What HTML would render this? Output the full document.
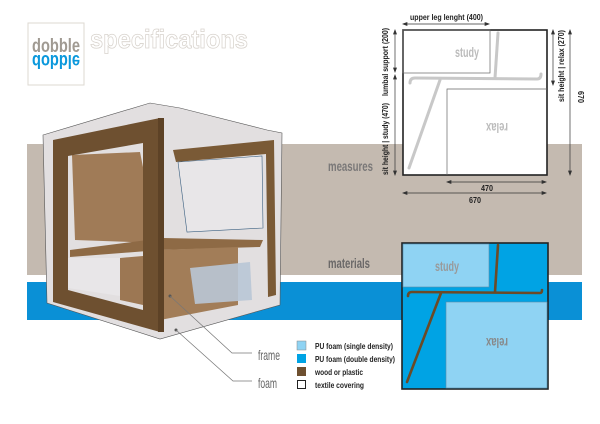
<!DOCTYPE html>
<html><head><meta charset="utf-8"><style>
body{margin:0;background:#fff;}
svg{display:block;}
.c{font-family:"Liberation Sans Narrow","Liberation Sans",sans-serif;}
</style></head><body>
<svg width="600" height="424" viewBox="0 0 600 424" xmlns="http://www.w3.org/2000/svg">
<rect x="27" y="144" width="555" height="131" fill="#c4bab0"/>
<rect x="27" y="282" width="555" height="38" fill="#0a90d6"/>
<rect x="28" y="23" width="56" height="62" fill="#fff" stroke="#ddd8d2" stroke-width="1"/>
<text x="56" y="52" text-anchor="middle" class="c" font-size="19" font-weight="bold" fill="#a09a92" textLength="48" lengthAdjust="spacingAndGlyphs">dobble</text>
<text x="56" y="55" text-anchor="middle" class="c" font-size="19" font-weight="bold" fill="#0a98dc" textLength="48" lengthAdjust="spacingAndGlyphs" transform="translate(0,110) scale(1,-1)">dobble</text>
<text x="90" y="48" class="c" font-size="26" font-weight="bold" fill="#fff" stroke="#d8d3cd" stroke-width="0.8" textLength="158" lengthAdjust="spacingAndGlyphs">specifications</text>
<polygon points="43,135 150,103 180,108 267,130 282,133 280,305 160,339 47,303" fill="#e2dfe0" stroke="#555" stroke-width="0.6"/>
<polygon points="173,150 274,140 276,295 268,297 266,154 176,162" fill="#7a5a36"/>
<polygon points="178,162 262,156 263,228 187,232" fill="#e8e6e8" stroke="#3a5f80" stroke-width="0.6"/>
<polygon points="72,155 140,152 158,243 75,240" fill="#a07b57"/>
<polygon points="70,250 163,238 263,240 260,247 160,250 70,257" fill="#8e6a45"/>
<polygon points="160,250 238,247 238,305 160,320" fill="#a27d58"/>
<polygon points="190,268 250,262 252,300 195,304" fill="#b9c6d6" opacity="0.9"/>
<polygon points="68,258 120,258 120,296 68,288" fill="#e8e6e8"/>
<polygon points="120,258 143,256 143,305 120,300" fill="#9c7753"/>
<path d="M53,140 L160,118 L160,332 L53,302 Z M68,156 L143,143 L143,310 L68,290 Z" fill="#6e5030" fill-rule="evenodd"/>
<rect x="158" y="118" width="6" height="214" fill="#5d4226"/>
<circle cx="170" cy="296" r="1.5" fill="#555"/>
<circle cx="176" cy="330" r="1.5" fill="#555"/>
<polyline points="170,296 232,353 252,353" fill="none" stroke="#777" stroke-width="0.7"/>
<polyline points="176,330 233,381 252,381" fill="none" stroke="#777" stroke-width="0.7"/>
<text x="258" y="360" class="c" font-size="14" fill="#666" textLength="22" lengthAdjust="spacingAndGlyphs">frame</text>
<text x="258" y="388" class="c" font-size="14" fill="#666" textLength="19" lengthAdjust="spacingAndGlyphs">foam</text>
<text x="328" y="171" class="c" font-size="14" font-weight="bold" fill="#7a7878" textLength="45" lengthAdjust="spacingAndGlyphs">measures</text>
<text x="328" y="268" class="c" font-size="14" font-weight="bold" fill="#6a6868" textLength="42" lengthAdjust="spacingAndGlyphs">materials</text>
<g class="c" font-size="8" font-weight="bold" fill="#222">
<rect x="297" y="341" width="9" height="9" fill="#8fd3f3" stroke="#888" stroke-width="0.5"/>
<text x="315" y="349" textLength="78" lengthAdjust="spacingAndGlyphs">PU foam (single density)</text>
<rect x="297" y="354" width="9" height="9" fill="#00a3e4"/>
<text x="315" y="362" textLength="80" lengthAdjust="spacingAndGlyphs">PU foam (double density)</text>
<rect x="297" y="367" width="9" height="9" fill="#6e5030"/>
<text x="315" y="375" textLength="48" lengthAdjust="spacingAndGlyphs">wood or plastic</text>
<rect x="297.5" y="380.5" width="8" height="8" fill="#fff" stroke="#222" stroke-width="1"/>
<text x="315" y="388" textLength="49" lengthAdjust="spacingAndGlyphs">textile covering</text>
</g>
<rect x="403" y="30" width="144" height="145" fill="#fff" stroke="#222" stroke-width="1.6"/>
<rect x="403" y="30" width="87" height="43" fill="none" stroke="#666" stroke-width="0.7"/>
<polyline points="547,89 447,89 447,175" fill="none" stroke="#666" stroke-width="0.7"/>
<g stroke="#c8c8c8" stroke-width="3" fill="none" stroke-linecap="round">
<path d="M410,83 Q410,78 415,78 L537,79 Q541,79 541,74"/>
<path d="M498,33 L495,78"/>
<path d="M440,80 L409,168"/>
</g>
<text x="467" y="57" text-anchor="middle" class="c" font-size="14" font-weight="bold" fill="#bbb" textLength="24" lengthAdjust="spacingAndGlyphs">study</text>
<text x="497" y="131" text-anchor="middle" class="c" font-size="14" font-weight="bold" fill="#bbb" textLength="22" lengthAdjust="spacingAndGlyphs" transform="rotate(180 497 127)">relax</text>
<g stroke="#333" stroke-width="0.7" fill="#333">
<line x1="404" y1="24" x2="488" y2="24"/><path d="M403,24 l4,-1.5 v3z M489,24 l-4,-1.5 v3z"/>
<line x1="395" y1="31" x2="395" y2="71"/><path d="M395,30 l-1.5,4 h3z M395,72 l-1.5,-4 h3z"/>
<line x1="395" y1="76" x2="395" y2="174"/><path d="M395,75 l-1.5,4 h3z M395,175 l-1.5,-4 h3z"/>
<line x1="553" y1="31" x2="553" y2="84"/><path d="M553,30 l-1.5,4 h3z M553,85 l-1.5,-4 h3z"/>
<line x1="570" y1="31" x2="570" y2="174"/><path d="M570,30 l-1.5,4 h3z M570,175 l-1.5,-4 h3z"/>
<line x1="448" y1="182" x2="545" y2="182"/><path d="M447,182 l4,-1.5 v3z M546,182 l-4,-1.5 v3z"/>
<line x1="404" y1="193" x2="545" y2="193"/><path d="M403,193 l4,-1.5 v3z M546,193 l-4,-1.5 v3z"/>
</g>
<g class="c" font-size="8" font-weight="bold" fill="#222">
<text x="410" y="20" textLength="73" lengthAdjust="spacingAndGlyphs">upper leg lenght (400)</text>
<text x="487" y="191" text-anchor="middle" textLength="12" lengthAdjust="spacingAndGlyphs">470</text>
<text x="475" y="203" text-anchor="middle" textLength="12" lengthAdjust="spacingAndGlyphs">670</text>
<text transform="translate(388,62) rotate(-90)" text-anchor="middle" textLength="68" lengthAdjust="spacingAndGlyphs">lumbal support (200)</text>
<text transform="translate(388,139) rotate(-90)" text-anchor="middle" textLength="72" lengthAdjust="spacingAndGlyphs">sit height | study (470)</text>
<text transform="translate(564,66) rotate(-90)" text-anchor="middle" textLength="72" lengthAdjust="spacingAndGlyphs">sit height | relax (270)</text>
<text transform="translate(578,97) rotate(90)" text-anchor="middle" textLength="12" lengthAdjust="spacingAndGlyphs">670</text>
</g>
<rect x="402" y="243" width="146" height="146" fill="#00a3e4" stroke="#222" stroke-width="1.6"/>
<rect x="403" y="244" width="86" height="43" fill="#8fd3f3" stroke="#5a8aa8" stroke-width="0.6"/>
<rect x="446" y="302" width="101" height="86" fill="#8fd3f3" stroke="#5a8aa8" stroke-width="0.6"/>
<g stroke="#6b4a26" stroke-width="2.6" fill="none" stroke-linecap="round">
<path d="M408,296 Q408,292 412,292 L540,293 Q542,293 542,290"/>
<path d="M498,245 L495,292"/>
<path d="M441,293 L407,382"/>
</g>
<text x="447" y="271" text-anchor="middle" class="c" font-size="14" font-weight="bold" fill="#999" textLength="24" lengthAdjust="spacingAndGlyphs">study</text>
<text x="497" y="346" text-anchor="middle" class="c" font-size="14" font-weight="bold" fill="#888" textLength="22" lengthAdjust="spacingAndGlyphs" transform="rotate(180 497 342)">relax</text>
</svg>
</body></html>
